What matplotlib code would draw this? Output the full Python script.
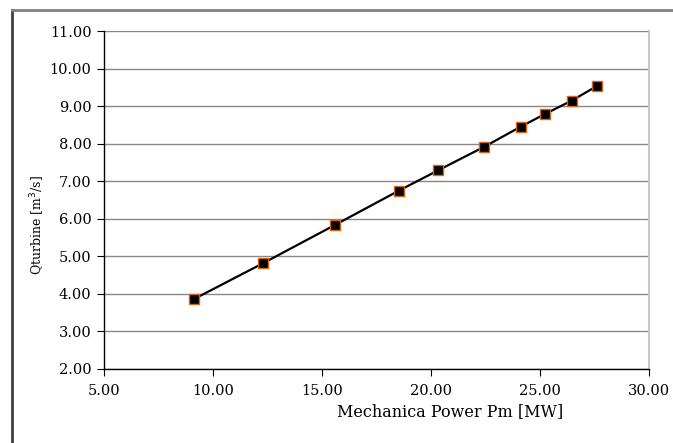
import matplotlib
matplotlib.use("Agg")
import matplotlib.pyplot as plt
from matplotlib.lines import Line2D

power_mw = [9.15, 12.31, 15.61, 18.53, 20.33, 22.45, 24.11, 25.23, 26.45, 27.60]
q_turbine = [3.87, 4.82, 5.84, 6.75, 7.29, 7.92, 8.45, 8.79, 9.145, 9.53]
x_ticks = [5, 10, 15, 20, 25, 30]
y_ticks = [2, 3, 4, 5, 6, 7, 8, 9, 10, 11]

W, H = 673, 443
plt.rcParams['font.family'] = ['DejaVu Serif']
fig = plt.figure(figsize=(W / 100, H / 100), dpi=100)
fig.patch.set_facecolor('white')

ax = fig.add_axes([104 / W, 1 - 369 / H, (649 - 104) / W, (369 - 31) / H])
ax.plot(power_mw, q_turbine, color='black', lw=1.6, marker='s', ms=7.5,
        mfc='black', mec='#d9640f', mew=1.0, zorder=3)

ax.set_xlim(5, 30)
ax.set_ylim(2, 11)
ax.set_xticks(x_ticks)
ax.set_yticks(y_ticks)
ax.set_xticklabels([f"{v:.2f}" for v in x_ticks])
ax.set_yticklabels([f"{v:.2f}" for v in y_ticks])
ax.yaxis.grid(True, color='#888888', lw=1.0)
ax.set_axisbelow(True)
for s in ['left', 'bottom']:
    ax.spines[s].set_color('black')
    ax.spines[s].set_linewidth(1.0)
ax.spines['top'].set_visible(False)
ax.spines['right'].set_color('#c8c8c8')
ax.spines['right'].set_linewidth(1.5)
ax.tick_params(axis='both', direction='out', length=5, width=0.8, labelsize=10.5,
               colors='black', pad=4)
ax.tick_params(axis='x', pad=6)

fig.text(450 / W, 1 - 412 / H, "Mechanica Power Pm [MW]", ha='center', va='center', fontsize=11.5)
fig.text(38 / W, 1 - 225 / H, "Qturbine [m$^3$/s]", ha='center', va='center', rotation=90, fontsize=9)

# figure frame (left and top edges visible)
fig.add_artist(Line2D([12 / W, 12 / W], [0, 1 - 10 / H], transform=fig.transFigure, color='#404040', lw=2))
fig.add_artist(Line2D([12 / W, 1], [1 - 10 / H, 1 - 10 / H], transform=fig.transFigure, color='#808080', lw=2))

fig.savefig("out.png", dpi=100)
